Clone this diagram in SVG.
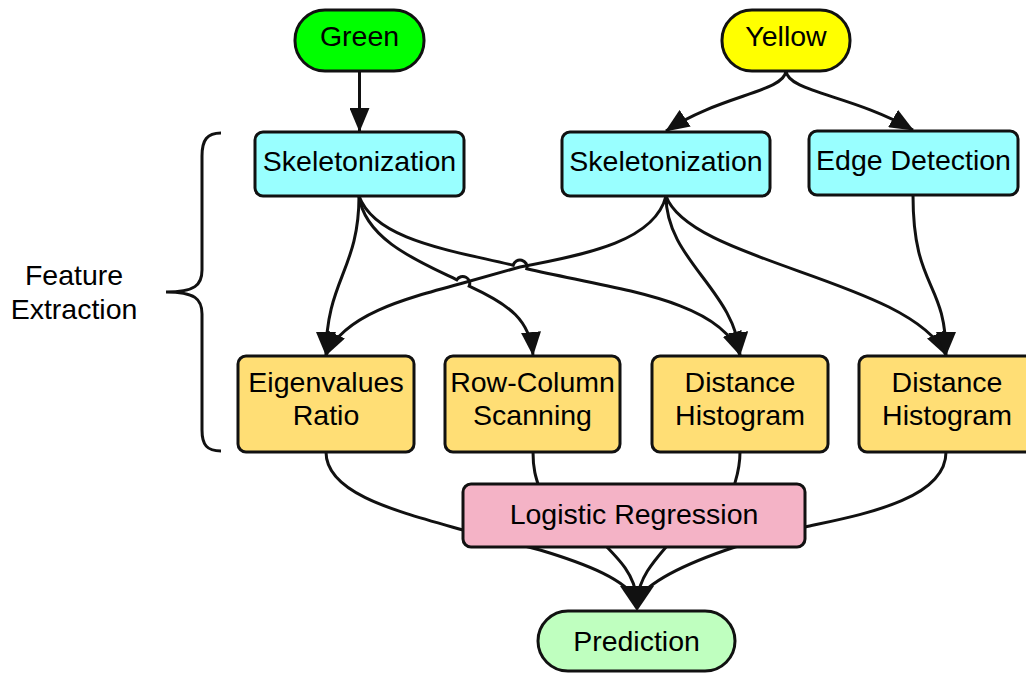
<svg xmlns="http://www.w3.org/2000/svg" width="1026" height="675" viewBox="0 0 1026 675">
<defs>
<style>
.n{stroke:#111;stroke-width:3}
.t{font-family:"Liberation Sans",Arial,sans-serif;font-size:28.5px;fill:#000;text-anchor:middle}
.c{fill:none;stroke:#111;stroke-width:3}
</style>
<marker id="ah" viewBox="0 0 24 20" refX="23" refY="10" markerWidth="24" markerHeight="20" markerUnits="userSpaceOnUse" orient="auto">
<path d="M0,0 L24,10 L0,20 z" fill="#111"/>
</marker>
</defs>
<rect width="1026" height="675" fill="#fff"/>
<g id="brace">
<path class="c" d="M221,133 C207,133 202,140 202,156 L202,270 C202,285 195,292 166,292 C195,292 202,299 202,314 L202,430 C202,445 207,451 221,451"/>
<text class="t" x="74" y="285">Feature</text>
<text class="t" x="74" y="319">Extraction</text>
</g>
<g id="connectors">
<path class="c" marker-end="url(#ah)" d="M359.5,71 L359.5,131"/>
<path class="c" marker-end="url(#ah)" d="M786,71 C784,92 720,95 666,131"/>
<path class="c" marker-end="url(#ah)" d="M786,71 C788,92 852,95 913,130"/>
<path class="c" marker-end="url(#ah)" d="M359,196 C359,270 326,280 326,355"/>
<path class="c" marker-end="url(#ah)" d="M359,196 C365,240 420,262 456.8,279.8 A7,7 0 0 1 469.2,286.2 C510,305 530,320 533,355"/>
<path class="c" marker-end="url(#ah)" d="M359,196 C375,240 450,250 513.2,265.3 A7,7 0 0 1 526.8,268.7 C620,290 720,300 740,355"/>
<path class="c" marker-end="url(#ah)" d="M666,196 C655,240 590,254 520,267 L463,283 C400,300 345,315 326,355"/>
<path class="c" marker-end="url(#ah)" d="M666,196 C666,260 735,290 740,355"/>
<path class="c" marker-end="url(#ah)" d="M666,196 C690,262 910,280 946,355"/>
<path class="c" marker-end="url(#ah)" d="M913,195 C913,290 946,280 946,355"/>
<path class="c" d="M326,452 C326,495 400,512 470,532 L540,550 C590,565 625,580 637,600"/>
<path class="c" d="M533,452 C533,470 536,478 540,490 L600,540 C620,560 635,575 637,600"/>
<path class="c" d="M740,452 C740,470 736,478 733,490 L672,540 C655,560 640,575 637,600"/>
<path class="c" d="M946,452 C946,500 860,515 805,527 L735,547 C690,562 650,580 637,600"/>
<path d="M620,586 L654,586 L637,611 z" fill="#111"/>
</g>
<g id="green"><rect class="n" x="295" y="10" width="129" height="61" rx="30" fill="#00ff00"/><text class="t" x="359.5" y="46">Green</text></g>
<g id="yellow"><rect class="n" x="722" y="10" width="128" height="61" rx="30" fill="#ffff00"/><text class="t" x="786" y="46">Yellow</text></g>
<g id="skel1"><rect class="n" x="255" y="132" width="209" height="64" rx="8" fill="#99ffff"/><text class="t" x="359.5" y="171">Skeletonization</text></g>
<g id="skel2"><rect class="n" x="562" y="132" width="208" height="64" rx="8" fill="#99ffff"/><text class="t" x="666" y="171">Skeletonization</text></g>
<g id="edge"><rect class="n" x="809" y="131" width="209" height="64" rx="8" fill="#99ffff"/><text class="t" x="913.5" y="170">Edge Detection</text></g>
<g id="eigen"><rect class="n" x="238" y="356" width="176" height="96" rx="8" fill="#ffde75"/><text class="t" x="326" y="392">Eigenvalues</text><text class="t" x="326" y="425">Ratio</text></g>
<g id="rowcol"><rect class="n" x="445" y="356" width="175" height="96" rx="8" fill="#ffde75"/><text class="t" x="532.5" y="392">Row-Column</text><text class="t" x="532.5" y="425">Scanning</text></g>
<g id="dist1"><rect class="n" x="652" y="356" width="176" height="96" rx="8" fill="#ffde75"/><text class="t" x="740" y="392">Distance</text><text class="t" x="740" y="425">Histogram</text></g>
<g id="dist2"><rect class="n" x="859" y="356" width="176" height="96" rx="8" fill="#ffde75"/><text class="t" x="947" y="392">Distance</text><text class="t" x="947" y="425">Histogram</text></g>
<g id="logreg"><rect class="n" x="463" y="484" width="342" height="63" rx="8" fill="#f4b3c6"/><text class="t" x="634" y="524">Logistic Regression</text></g>
<g id="prediction"><rect class="n" x="538" y="611" width="197" height="60" rx="30" fill="#bfffbf"/><text class="t" x="636.5" y="651">Prediction</text></g>
</svg>
